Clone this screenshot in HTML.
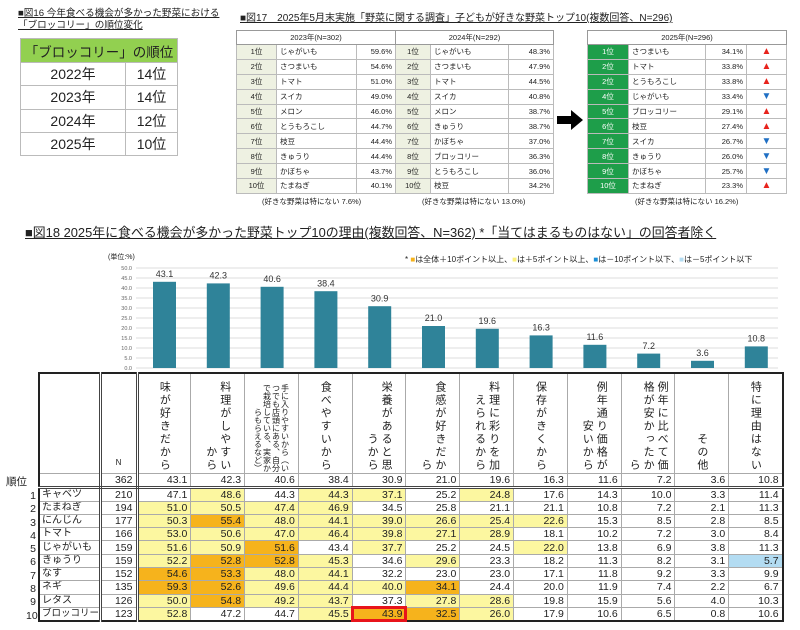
<!DOCTYPE html>
<html><head><meta charset="utf-8">
<style>
*{margin:0;padding:0;box-sizing:border-box}
body{width:800px;height:630px;background:#fff;position:relative;overflow:hidden;font-family:"Liberation Sans","Noto Sans CJK JP",sans-serif;color:#222}
.a{position:absolute;white-space:nowrap}
table{border-collapse:collapse;table-layout:fixed}
.t16 td{border:1px solid #bbb;text-align:center;font-size:14px;height:23.3px;padding:0}
.t17{position:absolute;font-size:7.5px}
.t17 td{border:1px solid #bbb;height:14.9px;padding:0 3px;white-space:nowrap}
.t17 td.r{background:#eef1e2;text-align:center}
.t17 td.p{text-align:right}
.t17 td.g{background:#1e9e4a;color:#fff;text-align:center}
.t17 th{font-weight:normal;border:1px solid #999;height:14px;font-size:7.5px}
.up{color:#e8231c;font-size:10px;text-align:center}
.dn{color:#1f6fc4;font-size:10px;text-align:center}
.t18{position:absolute;left:38px;top:372px;width:745px;border:2px solid #222}
.t18 td{border:1px solid #aaa;font-size:10.5px;height:13.3px;text-align:right;padding:0 3px;line-height:12px;white-space:nowrap;overflow:hidden}
.t18 td.n{text-align:left;font-size:10px;padding:0 2px}
.t18 tr.h td{height:100px;vertical-align:top;padding:4px 0 0;white-space:normal}
.t18 tr.tot td{border-bottom:3px double #444}
.t18 td.c2{border-right:3px double #444}
.t18 td.c1{border-right:3px double #444}
.v{writing-mode:vertical-rl;font-size:11px;letter-spacing:2px;margin:0 auto;height:94px;line-height:14px}
.O{background:#f6b31c}.Y{background:#fcf7a0}.B{background:#b3dcf2}
</style></head><body>

<!-- Fig16 -->
<div class="a" style="left:18px;top:8px;font-size:9.6px;line-height:12px;text-decoration:underline">■図16 今年食べる機会が多かった野菜における<br>「ブロッコリー」の順位変化</div>
<table class="t16 a" style="left:20px;top:38px;width:157px">
<col style="width:105px"><col style="width:52px">
<tr><td colspan="2" style="background:#92d050;font-size:13.5px;height:24px">「ブロッコリー」の順位</td></tr>
<tr><td>2022年</td><td>14位</td></tr>
<tr><td>2023年</td><td>14位</td></tr>
<tr><td>2024年</td><td>12位</td></tr>
<tr><td>2025年</td><td>10位</td></tr>
</table>

<!-- Fig17 -->
<div class="a" style="left:240px;top:9px;font-size:10px;text-decoration:underline">■図17　2025年5月末実施「野菜に関する調査」子どもが好きな野菜トップ10(複数回答、N=296)</div>
<table class="t17" style="left:236px;top:30px;width:159px">
<col style="width:40px"><col style="width:80px"><col style="width:39px">
<tr><th colspan="3">2023年(N=302)</th></tr>
<tr><td class="r">1位</td><td>じゃがいも</td><td class="p">59.6%</td></tr>
<tr><td class="r">2位</td><td>さつまいも</td><td class="p">54.6%</td></tr>
<tr><td class="r">3位</td><td>トマト</td><td class="p">51.0%</td></tr>
<tr><td class="r">4位</td><td>スイカ</td><td class="p">49.0%</td></tr>
<tr><td class="r">5位</td><td>メロン</td><td class="p">46.0%</td></tr>
<tr><td class="r">6位</td><td>とうもろこし</td><td class="p">44.7%</td></tr>
<tr><td class="r">7位</td><td>枝豆</td><td class="p">44.4%</td></tr>
<tr><td class="r">8位</td><td>きゅうり</td><td class="p">44.4%</td></tr>
<tr><td class="r">9位</td><td>かぼちゃ</td><td class="p">43.7%</td></tr>
<tr><td class="r">10位</td><td>たまねぎ</td><td class="p">40.1%</td></tr>
</table>
<table class="t17" style="left:395px;top:30px;width:158px">
<col style="width:35px"><col style="width:78px"><col style="width:45px">
<tr><th colspan="3">2024年(N=292)</th></tr>
<tr><td class="r">1位</td><td>じゃがいも</td><td class="p">48.3%</td></tr>
<tr><td class="r">2位</td><td>さつまいも</td><td class="p">47.9%</td></tr>
<tr><td class="r">3位</td><td>トマト</td><td class="p">44.5%</td></tr>
<tr><td class="r">4位</td><td>スイカ</td><td class="p">40.8%</td></tr>
<tr><td class="r">5位</td><td>メロン</td><td class="p">38.7%</td></tr>
<tr><td class="r">6位</td><td>きゅうり</td><td class="p">38.7%</td></tr>
<tr><td class="r">7位</td><td>かぼちゃ</td><td class="p">37.0%</td></tr>
<tr><td class="r">8位</td><td>ブロッコリー</td><td class="p">36.3%</td></tr>
<tr><td class="r">9位</td><td>とうもろこし</td><td class="p">36.0%</td></tr>
<tr><td class="r">10位</td><td>枝豆</td><td class="p">34.2%</td></tr>
</table>
<svg class="a" style="left:557px;top:110px" width="26" height="20"><polygon points="0,6 14,6 14,0 26,10 14,20 14,14 0,14" fill="#000"/></svg>
<table class="t17" style="left:587px;top:30px;width:199px">
<col style="width:41px"><col style="width:77px"><col style="width:41px"><col style="width:40px">
<tr><th colspan="4">2025年(N=296)</th></tr>
<tr><td class="g">1位</td><td>さつまいも</td><td class="p">34.1%</td><td class="up">▲</td></tr>
<tr><td class="g">2位</td><td>トマト</td><td class="p">33.8%</td><td class="up">▲</td></tr>
<tr><td class="g">2位</td><td>とうもろこし</td><td class="p">33.8%</td><td class="up">▲</td></tr>
<tr><td class="g">4位</td><td>じゃがいも</td><td class="p">33.4%</td><td class="dn">▼</td></tr>
<tr><td class="g">5位</td><td>ブロッコリー</td><td class="p">29.1%</td><td class="up">▲</td></tr>
<tr><td class="g">6位</td><td>枝豆</td><td class="p">27.4%</td><td class="up">▲</td></tr>
<tr><td class="g">7位</td><td>スイカ</td><td class="p">26.7%</td><td class="dn">▼</td></tr>
<tr><td class="g">8位</td><td>きゅうり</td><td class="p">26.0%</td><td class="dn">▼</td></tr>
<tr><td class="g">9位</td><td>かぼちゃ</td><td class="p">25.7%</td><td class="dn">▼</td></tr>
<tr><td class="g">10位</td><td>たまねぎ</td><td class="p">23.3%</td><td class="up">▲</td></tr>
</table>
<div class="a" style="left:262px;top:196px;font-size:7.5px">(好きな野菜は特にない 7.6%)</div>
<div class="a" style="left:422px;top:196px;font-size:7.5px">(好きな野菜は特にない 13.0%)</div>
<div class="a" style="left:635px;top:196px;font-size:7.5px">(好きな野菜は特にない 16.2%)</div>

<!-- Fig18 -->
<div class="a" style="left:25px;top:222px;font-size:12.9px;text-decoration:underline">■図18 2025年に食べる機会が多かった野菜トップ10の理由(複数回答、N=362) *「当てはまるものはない」の回答者除く</div>
<div class="a" style="left:108px;top:252px;font-size:7px">(単位:%)</div>
<div class="a" style="left:405px;top:254px;font-size:8px">* <span style="color:#f6b31c">■</span>は全体＋10ポイント以上、<span style="color:#fcf17a">■</span>は＋5ポイント以上、<span style="color:#1a8fd8">■</span>は－10ポイント以下、<span style="color:#b3dcf2">■</span>は－5ポイント以下</div>
<svg class="a" style="left:100px;top:262px" width="690" height="112" font-family="Liberation Sans,sans-serif">
<g stroke="#ddd" stroke-width="1">
<line x1="36" x2="678" y1="6" y2="6"/><line x1="36" x2="678" y1="16" y2="16"/><line x1="36" x2="678" y1="26" y2="26"/><line x1="36" x2="678" y1="36" y2="36"/><line x1="36" x2="678" y1="46" y2="46"/><line x1="36" x2="678" y1="56" y2="56"/><line x1="36" x2="678" y1="66" y2="66"/><line x1="36" x2="678" y1="76" y2="76"/><line x1="36" x2="678" y1="86" y2="86"/><line x1="36" x2="678" y1="96" y2="96"/><line x1="36" x2="678" y1="106" y2="106"/>
</g>
<g font-size="5.5" fill="#666" text-anchor="end">
<text x="32" y="8">50.0</text><text x="32" y="18">45.0</text><text x="32" y="28">40.0</text><text x="32" y="38">35.0</text><text x="32" y="48">30.0</text><text x="32" y="58">25.0</text><text x="32" y="68">20.0</text><text x="32" y="78">15.0</text><text x="32" y="88">10.0</text><text x="32" y="98">5.0</text><text x="32" y="108">0.0</text>
</g>
<g fill="#2f8399">
<rect x="53" y="19.8" width="23" height="86.2"/><rect x="106.8" y="21.4" width="23" height="84.6"/><rect x="160.6" y="24.8" width="23" height="81.2"/><rect x="214.4" y="29.2" width="23" height="76.8"/><rect x="268.2" y="44.2" width="23" height="61.8"/><rect x="322" y="64" width="23" height="42"/><rect x="375.8" y="66.8" width="23" height="39.2"/><rect x="429.6" y="73.4" width="23" height="32.6"/><rect x="483.4" y="82.8" width="23" height="23.2"/><rect x="537.2" y="91.6" width="23" height="14.4"/><rect x="591" y="98.8" width="23" height="7.2"/><rect x="644.8" y="84.4" width="23" height="21.6"/>
</g>
<g font-size="9" fill="#333" text-anchor="middle">
<text x="64.5" y="15">43.1</text><text x="118.3" y="16.5">42.3</text><text x="172.1" y="20">40.6</text><text x="225.9" y="24.5">38.4</text><text x="279.7" y="39.5">30.9</text><text x="333.5" y="59">21.0</text><text x="387.3" y="62">19.6</text><text x="441.1" y="68.5">16.3</text><text x="494.9" y="78">11.6</text><text x="548.7" y="87">7.2</text><text x="602.5" y="94">3.6</text><text x="656.3" y="79.5">10.8</text>
</g>
</svg>

<div class="a" style="left:6px;top:474px;font-size:10.5px">順位</div>
<div class="a" style="left:26px;top:490px;font-size:10.5px;line-height:13.3px;text-align:right;width:10px">1<br>2<br>3<br>4<br>5<br>6<br>7<br>8<br>9<br>10</div>

<table class="t18">
<col style="width:61px"><col style="width:37px"><col span="12" style="width:53.8px">
<tr class="h"><td class="c1"></td><td class="c2" style="vertical-align:bottom;text-align:center;font-size:8px;padding-bottom:4px">N</td>
<td><div class="v">味が好きだから</div></td>
<td><div class="v">料理がしやすいから</div></td>
<td><div class="v" style="font-size:8px;letter-spacing:0;line-height:9px">手に入りやすいから（いつでも店頭にある、自分で栽培している、実家からもらえるなど）</div></td>
<td><div class="v">食べやすいから</div></td>
<td><div class="v">栄養があると思うから</div></td>
<td><div class="v">食感が好きだから</div></td>
<td><div class="v">料理に彩りを加えられるから</div></td>
<td><div class="v">保存がきくから</div></td>
<td><div class="v">例年通り価格が安いから</div></td>
<td><div class="v">例年に比べて価格が安かったから</div></td>
<td><div class="v">その他</div></td>
<td><div class="v">特に理由はない</div></td></tr>
<tr class="tot"><td class="c1"></td><td class="c2">362</td><td>43.1</td><td>42.3</td><td>40.6</td><td>38.4</td><td>30.9</td><td>21.0</td><td>19.6</td><td>16.3</td><td>11.6</td><td>7.2</td><td>3.6</td><td>10.8</td></tr>
<tr><td class="n c1">キャベツ</td><td class="c2">210</td><td>47.1</td><td class="Y">48.6</td><td>44.3</td><td class="Y">44.3</td><td class="Y">37.1</td><td>25.2</td><td class="Y">24.8</td><td>17.6</td><td>14.3</td><td>10.0</td><td>3.3</td><td>11.4</td></tr>
<tr><td class="n c1">たまねぎ</td><td class="c2">194</td><td class="Y">51.0</td><td class="Y">50.5</td><td class="Y">47.4</td><td class="Y">46.9</td><td>34.5</td><td>25.8</td><td>21.1</td><td>21.1</td><td>10.8</td><td>7.2</td><td>2.1</td><td>11.3</td></tr>
<tr><td class="n c1">にんじん</td><td class="c2">177</td><td class="Y">50.3</td><td class="O">55.4</td><td class="Y">48.0</td><td class="Y">44.1</td><td class="Y">39.0</td><td class="Y">26.6</td><td class="Y">25.4</td><td class="Y">22.6</td><td>15.3</td><td>8.5</td><td>2.8</td><td>8.5</td></tr>
<tr><td class="n c1">トマト</td><td class="c2">166</td><td class="Y">53.0</td><td class="Y">50.6</td><td class="Y">47.0</td><td class="Y">46.4</td><td class="Y">39.8</td><td class="Y">27.1</td><td class="Y">28.9</td><td>18.1</td><td>10.2</td><td>7.2</td><td>3.0</td><td>8.4</td></tr>
<tr><td class="n c1">じゃがいも</td><td class="c2">159</td><td class="Y">51.6</td><td class="Y">50.9</td><td class="O">51.6</td><td>43.4</td><td class="Y">37.7</td><td>25.2</td><td>24.5</td><td class="Y">22.0</td><td>13.8</td><td>6.9</td><td>3.8</td><td>11.3</td></tr>
<tr><td class="n c1">きゅうり</td><td class="c2">159</td><td class="Y">52.2</td><td class="O">52.8</td><td class="O">52.8</td><td class="Y">45.3</td><td>34.6</td><td class="Y">29.6</td><td>23.3</td><td>18.2</td><td>11.3</td><td>8.2</td><td>3.1</td><td class="B">5.7</td></tr>
<tr><td class="n c1">なす</td><td class="c2">152</td><td class="O">54.6</td><td class="O">53.3</td><td class="Y">48.0</td><td class="Y">44.1</td><td>32.2</td><td>23.0</td><td>23.0</td><td>17.1</td><td>11.8</td><td>9.2</td><td>3.3</td><td>9.9</td></tr>
<tr><td class="n c1">ネギ</td><td class="c2">135</td><td class="O">59.3</td><td class="O">52.6</td><td class="Y">49.6</td><td class="Y">44.4</td><td class="Y">40.0</td><td class="O">34.1</td><td>24.4</td><td>20.0</td><td>11.9</td><td>7.4</td><td>2.2</td><td>6.7</td></tr>
<tr><td class="n c1">レタス</td><td class="c2">126</td><td class="Y">50.0</td><td class="O">54.8</td><td class="Y">49.2</td><td class="Y">43.7</td><td>37.3</td><td class="Y">27.8</td><td class="Y">28.6</td><td>19.8</td><td>15.9</td><td>5.6</td><td>4.0</td><td>10.3</td></tr>
<tr><td class="n c1" style="font-size:9.5px">ブロッコリー</td><td class="c2">123</td><td class="Y">52.8</td><td>47.2</td><td>44.7</td><td class="Y">45.5</td><td class="O" style="outline:3px solid #e8141b;outline-offset:-2px">43.9</td><td class="O">32.5</td><td class="Y">26.0</td><td>17.9</td><td>10.6</td><td>6.5</td><td>0.8</td><td>10.6</td></tr>
</table>
</body></html>
